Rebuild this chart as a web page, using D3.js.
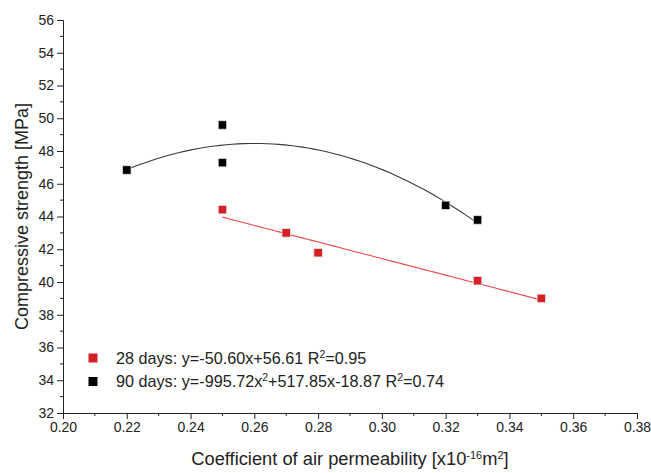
<!DOCTYPE html>
<html>
<head>
<meta charset="utf-8">
<script src="https://cdn.jsdelivr.net/npm/d3@7"></script>
<style>
	body { margin: 0; background: #fff; }
	text { font-family: "Liberation Sans", Arial, sans-serif; fill: #222; }
</style>
</head>
<body>
<svg id="chart" width="651" height="473"></svg>
<script>
const perm28 = [0.25, 0.27, 0.28, 0.33, 0.35]
const strength28 = [44.42, 43.0, 41.79, 40.08, 39.0]
const perm90 = [0.22, 0.25, 0.25, 0.32, 0.33]
const strength90 = [46.84, 49.59, 47.29, 44.68, 43.79]

// fit coefficients as printed in the legend (highest power first)
const fit28 = [-50.60, 56.61]
const fit90 = [-995.72, 517.85, -18.87]
const fitRange28 = [0.25, 0.35]
const fitRange90 = [0.22, 0.33]

const xTicks = [0.20, 0.22, 0.24, 0.26, 0.28, 0.30, 0.32, 0.34, 0.36, 0.38]
const yTicks = [32, 34, 36, 38, 40, 42, 44, 46, 48, 50, 52, 54, 56]

const svg = d3.select("#chart")

const x = d3.scaleLinear().domain([0.20, 0.38]).range([63, 637])
const y = d3.scaleLinear().domain([32, 56]).range([413, 20])

// polynomial helper for the trend lines
function poly(c, v){
	return c.reduce((acc, k) => acc * v + k, 0)
}

function fitPoints(c, range){
	let pts = []
	let n = 60
	for (let i = 0; i <= n; i++){
		let v = range[0] + (range[1] - range[0]) * i / n
		pts.push([v, poly(c, v)])
	}
	return pts
}

// text with raised parts: parts = [[string, isSup], ...]
function richText(t, parts, supSize){
	let prevSup = false
	parts.forEach(p => {
		let sup = !!p[1]
		let dy = sup && !prevSup ? -6 : (!sup && prevSup ? 6 : 0)
		t.append("tspan")
			.attr("dy", dy)
			.style("font-size", sup ? supSize : null)
			.text(p[0])
		prevSup = sup
	})
}

// axes - major ticks outward, minor ticks in between
let xMinor = d3.range(0.21, 0.38, 0.02)
let yMinor = d3.range(33, 56, 2)

let gx = svg.append("g").attr("transform", "translate(0," + y(32) + ")")
gx.call(d3.axisBottom(x).tickValues(xTicks).tickFormat(d3.format(".2f")).tickSizeOuter(0).tickSize(6).tickPadding(3))
gx.selectAll(".minor").data(xMinor).enter().append("line")
	.attr("x1", d => x(d)).attr("x2", d => x(d))
	.attr("y1", 0).attr("y2", 3)
	.attr("stroke", "#222")

let gy = svg.append("g").attr("transform", "translate(" + x(0.20) + ",0)")
gy.call(d3.axisLeft(y).tickValues(yTicks).tickFormat(d3.format("d")).tickSizeOuter(0).tickSize(6).tickPadding(3))
gy.selectAll(".minor").data(yMinor).enter().append("line")
	.attr("y1", d => y(d)).attr("y2", d => y(d))
	.attr("x1", 0).attr("x2", -3)
	.attr("stroke", "#222")

svg.selectAll(".domain, .tick line").attr("stroke", "#222")
svg.selectAll(".tick text").style("font-size", "14px").attr("fill", "#222")

// trend lines
let line = d3.line().x(d => x(d[0])).y(d => y(d[1]))

svg.append("path")
	.attr("d", line(fitPoints(fit90, fitRange90)))
	.attr("fill", "none")
	.attr("stroke", "#3a3a3a")
	.attr("stroke-width", 1.1)

svg.append("path")
	.attr("d", line(fitPoints(fit28, fitRange28)))
	.attr("fill", "none")
	.attr("stroke", "#e8474a")
	.attr("stroke-width", 1.1)

// markers
function squares(xs, ys, color){
	let s = 8.5
	svg.append("g").selectAll("rect")
		.data(xs.map((v, i) => [v, ys[i]]))
		.enter().append("rect")
		.attr("x", d => x(d[0]) - s / 2)
		.attr("y", d => y(d[1]) - s / 2)
		.attr("width", s).attr("height", s)
		.attr("fill", color)
		.attr("stroke", "#e6e6e6")
		.attr("stroke-width", 0.8)
}
squares(perm90, strength90, "#000")
squares(perm28, strength28, "#d41f25")

// legend
let legend = [
	{color: "#d41f25", parts: [["28 days: y=-50.60x+56.61 R"], ["2", true], ["=0.95"]]},
	{color: "#000", parts: [["90 days: y=-995.72x"], ["2", true], ["+517.85x-18.87 R"], ["2", true], ["=0.74"]]}
]
legend.forEach((l, i) => {
	let cy = 358 + i * 23.5
	svg.append("rect")
		.attr("x", 88.5).attr("y", cy - 4.5)
		.attr("width", 9).attr("height", 9)
		.attr("fill", l.color)
	let t = svg.append("text")
		.attr("x", 116).attr("y", cy + 5.5)
		.style("font-size", "16.2px")
	richText(t, l.parts, "10.5px")
})

// axis titles
svg.append("text")
	.attr("transform", "translate(28," + y(44) + ") rotate(-90)")
	.attr("text-anchor", "middle")
	.style("font-size", "18px")
	.text("Compressive strength [MPa]")

let xt = svg.append("text")
	.attr("x", x(0.29)).attr("y", 465)
	.attr("text-anchor", "middle")
	.style("font-size", "18.3px")
richText(xt, [["Coefficient of air permeability [x10"], ["-16", true], ["m"], ["2", true], ["]"]], "11px")
</script>
</body>
</html>
